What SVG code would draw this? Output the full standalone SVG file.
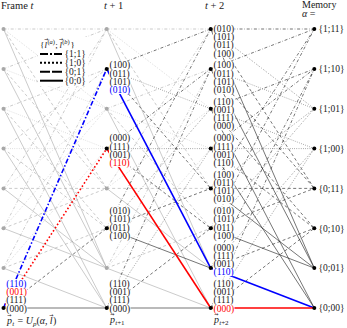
<svg xmlns="http://www.w3.org/2000/svg" width="347" height="328" viewBox="0 0 347 328">
<style>
.e line{fill:none;stroke-width:0.6}
.g line{stroke:#a8a8a8}
.k line{stroke:#1a1a1a}
.dd{stroke-dasharray:3 1.8 0.6 1.8}
.dt{stroke-dasharray:0.6 1.6}
.ds{stroke-dasharray:3 2.5}
.hb{stroke:#0000ff;stroke-width:1.6;fill:none}
.hr{stroke:#ff0000;stroke-width:1.6;fill:none}
.t{font-family:"Liberation Serif","DejaVu Serif",serif;fill:#1a1a1a}
.lb{font-size:9.5px}
.hd{font-size:10.5px}
.m{fill:#fff;stroke:none}
.nk{fill:#000}
.ng{fill:#a8a8a8}
.B{fill:#0000ff}
.R{fill:#ff0000}
.lg{stroke:#000;stroke-width:2;fill:none}
.ar{font-family:"DejaVu Sans",sans-serif;font-size:5px;fill:#1a1a1a}
.i{font-style:italic}
</style>
<rect width="347" height="328" fill="#fff"/>
<g id="connectors">
<g class="e g">
<line class="dd" x1="3.5" y1="29" x2="106.7" y2="29"/>
<line class="dd" x1="3.5" y1="68.9" x2="106.7" y2="29"/>
<line class="dd" x1="3.5" y1="108.7" x2="106.7" y2="68.9"/>
<line class="dd" x1="3.5" y1="148.6" x2="106.7" y2="68.9"/>
<line class="dd" x1="3.5" y1="188.4" x2="106.7" y2="29"/>
<line class="dd" x1="3.5" y1="228.3" x2="106.7" y2="29"/>
<line class="dd" x1="3.5" y1="268.1" x2="106.7" y2="68.9"/>
<line class="dt" x1="3.5" y1="29" x2="106.7" y2="108.7"/>
<line class="dt" x1="3.5" y1="68.9" x2="106.7" y2="108.7"/>
<line class="dt" x1="3.5" y1="108.7" x2="106.7" y2="148.6"/>
<line class="dt" x1="3.5" y1="148.6" x2="106.7" y2="148.6"/>
<line class="dt" x1="3.5" y1="188.4" x2="106.7" y2="108.7"/>
<line class="dt" x1="3.5" y1="228.3" x2="106.7" y2="108.7"/>
<line class="dt" x1="3.5" y1="268.1" x2="106.7" y2="148.6"/>
<line class="ds" x1="3.5" y1="29" x2="106.7" y2="188.4"/>
<line class="ds" x1="3.5" y1="68.9" x2="106.7" y2="188.4"/>
<line class="ds" x1="3.5" y1="108.7" x2="106.7" y2="228.3"/>
<line class="ds" x1="3.5" y1="148.6" x2="106.7" y2="228.3"/>
<line class="ds" x1="3.5" y1="188.4" x2="106.7" y2="188.4"/>
<line class="ds" x1="3.5" y1="228.3" x2="106.7" y2="188.4"/>
<line class="ds" x1="3.5" y1="268.1" x2="106.7" y2="228.3"/>
<line x1="3.5" y1="29" x2="106.7" y2="268.1"/>
<line x1="3.5" y1="68.9" x2="106.7" y2="268.1"/>
<line x1="3.5" y1="108.7" x2="106.7" y2="308"/>
<line x1="3.5" y1="148.6" x2="106.7" y2="308"/>
<line x1="3.5" y1="188.4" x2="106.7" y2="268.1"/>
<line x1="3.5" y1="228.3" x2="106.7" y2="268.1"/>
<line x1="3.5" y1="268.1" x2="106.7" y2="308"/>
<line class="dd" x1="106.7" y1="29" x2="210.7" y2="29"/>
<line class="dt" x1="106.7" y1="29" x2="210.7" y2="108.7"/>
<line class="ds" x1="106.7" y1="29" x2="210.7" y2="188.4"/>
<line x1="106.7" y1="29" x2="210.7" y2="268.1"/>
<line class="dd" x1="106.7" y1="108.7" x2="210.7" y2="68.9"/>
<line class="dt" x1="106.7" y1="108.7" x2="210.7" y2="148.6"/>
<line class="ds" x1="106.7" y1="108.7" x2="210.7" y2="228.3"/>
<line x1="106.7" y1="108.7" x2="210.7" y2="308"/>
<line class="dd" x1="106.7" y1="188.4" x2="210.7" y2="29"/>
<line class="dt" x1="106.7" y1="188.4" x2="210.7" y2="108.7"/>
<line class="ds" x1="106.7" y1="188.4" x2="210.7" y2="188.4"/>
<line x1="106.7" y1="188.4" x2="210.7" y2="268.1"/>
<line class="dd" x1="106.7" y1="268.1" x2="210.7" y2="68.9"/>
<line class="dt" x1="106.7" y1="268.1" x2="210.7" y2="148.6"/>
<line class="ds" x1="106.7" y1="268.1" x2="210.7" y2="228.3"/>
<line x1="106.7" y1="268.1" x2="210.7" y2="308"/>
</g>
<g class="e k">
<line class="ds" x1="3.5" y1="308" x2="106.7" y2="228.3"/>
<line x1="3.5" y1="308" x2="106.7" y2="308"/>
<line class="dd" x1="106.7" y1="68.9" x2="210.7" y2="29"/>
<line class="dt" x1="106.7" y1="68.9" x2="210.7" y2="108.7"/>
<line class="ds" x1="106.7" y1="68.9" x2="210.7" y2="188.4"/>
<line class="dd" x1="106.7" y1="148.6" x2="210.7" y2="68.9"/>
<line class="dt" x1="106.7" y1="148.6" x2="210.7" y2="148.6"/>
<line class="ds" x1="106.7" y1="148.6" x2="210.7" y2="228.3"/>
<line class="dd" x1="106.7" y1="228.3" x2="210.7" y2="29"/>
<line class="dt" x1="106.7" y1="228.3" x2="210.7" y2="108.7"/>
<line class="ds" x1="106.7" y1="228.3" x2="210.7" y2="188.4"/>
<line x1="106.7" y1="228.3" x2="210.7" y2="268.1"/>
<line class="dd" x1="106.7" y1="308" x2="210.7" y2="68.9"/>
<line class="dt" x1="106.7" y1="308" x2="210.7" y2="148.6"/>
<line class="ds" x1="106.7" y1="308" x2="210.7" y2="228.3"/>
<line x1="106.7" y1="308" x2="210.7" y2="308"/>
<line class="dd" x1="210.7" y1="29" x2="314.3" y2="29"/>
<line class="dt" x1="210.7" y1="29" x2="314.3" y2="108.7"/>
<line class="ds" x1="210.7" y1="29" x2="314.3" y2="188.4"/>
<line x1="210.7" y1="29" x2="314.3" y2="268.1"/>
<line class="dd" x1="210.7" y1="68.9" x2="314.3" y2="29"/>
<line class="dt" x1="210.7" y1="68.9" x2="314.3" y2="108.7"/>
<line class="ds" x1="210.7" y1="68.9" x2="314.3" y2="188.4"/>
<line x1="210.7" y1="68.9" x2="314.3" y2="268.1"/>
<line class="dd" x1="210.7" y1="108.7" x2="314.3" y2="68.9"/>
<line class="dt" x1="210.7" y1="108.7" x2="314.3" y2="148.6"/>
<line class="ds" x1="210.7" y1="108.7" x2="314.3" y2="228.3"/>
<line x1="210.7" y1="108.7" x2="314.3" y2="308"/>
<line class="dd" x1="210.7" y1="148.6" x2="314.3" y2="68.9"/>
<line class="dt" x1="210.7" y1="148.6" x2="314.3" y2="148.6"/>
<line class="ds" x1="210.7" y1="148.6" x2="314.3" y2="228.3"/>
<line x1="210.7" y1="148.6" x2="314.3" y2="308"/>
<line class="dd" x1="210.7" y1="188.4" x2="314.3" y2="29"/>
<line class="dt" x1="210.7" y1="188.4" x2="314.3" y2="108.7"/>
<line class="ds" x1="210.7" y1="188.4" x2="314.3" y2="188.4"/>
<line x1="210.7" y1="188.4" x2="314.3" y2="268.1"/>
<line class="dd" x1="210.7" y1="228.3" x2="314.3" y2="29"/>
<line class="dt" x1="210.7" y1="228.3" x2="314.3" y2="108.7"/>
<line class="ds" x1="210.7" y1="228.3" x2="314.3" y2="188.4"/>
<line x1="210.7" y1="228.3" x2="314.3" y2="268.1"/>
<line class="dd" x1="210.7" y1="268.1" x2="314.3" y2="68.9"/>
<line class="dt" x1="210.7" y1="268.1" x2="314.3" y2="148.6"/>
<line class="ds" x1="210.7" y1="268.1" x2="314.3" y2="228.3"/>
<line class="dd" x1="210.7" y1="308" x2="314.3" y2="68.9"/>
<line class="dt" x1="210.7" y1="308" x2="314.3" y2="148.6"/>
<line class="ds" x1="210.7" y1="308" x2="314.3" y2="228.3"/>
</g>
<g id="path-blue">
<line class="hb" x1="3.5" y1="308" x2="106.7" y2="68.9" stroke-dasharray="5 2 1.5 2"/>
<line class="hb" x1="106.7" y1="68.9" x2="210.7" y2="268.1"/>
<line class="hb" x1="210.7" y1="268.1" x2="314.3" y2="308"/>
</g>
<g id="path-red">
<line class="hr" x1="3.5" y1="308" x2="106.7" y2="148.6" stroke-dasharray="1.6 2.2"/>
<line class="hr" x1="106.7" y1="148.6" x2="210.7" y2="308"/>
<line class="hr" x1="210.7" y1="308" x2="314.3" y2="308"/>
</g>
</g>
<g id="headings" class="t hd">
<text x="1" y="8.5">Frame <tspan class="i">t</tspan></text>
<text x="104" y="8.5"><tspan class="i">t</tspan> + 1</text>
<text x="205" y="8.5"><tspan class="i">t</tspan> + 2</text>
<text x="302" y="7.5" font-size="10">Memory</text>
<text x="302" y="17" font-size="10"><tspan class="i">α</tspan> =</text>
</g>
<g id="legend">
<rect class="m" x="38" y="37" width="50" height="49"/>
<text class="t" x="40" y="47.5" font-size="9">{<tspan class="i" x="44.6">l</tspan><tspan font-size="6.5" x="47.4" y="44">(<tspan class="i">a</tspan>)</tspan><tspan x="55.2" y="47.5">;</tspan><tspan class="i" x="59.4">l</tspan><tspan font-size="6.5" x="62.2" y="44">(<tspan class="i">b</tspan>)</tspan><tspan x="70.4" y="47.5">}</tspan></text>
<text class="ar" x="44.3" y="40.6">→</text>
<text class="ar" x="59.1" y="40.6">→</text>
<line class="lg" x1="40" y1="54" x2="63" y2="54" stroke-dasharray="8 2 2 2"/>
<line class="lg" x1="40" y1="62.7" x2="63" y2="62.7" stroke-dasharray="2 2"/>
<line class="lg" x1="40" y1="71.7" x2="63" y2="71.7" stroke-dasharray="10 2"/>
<line class="lg" x1="40" y1="80.7" x2="63" y2="80.7"/>
<g class="t lb">
<text x="64.5" y="57.3">{1;1}</text>
<text x="64.5" y="66">{1;0}</text>
<text x="64.5" y="75">{0;1}</text>
<text x="64.5" y="84">{0;0}</text>
</g>
</g>
<g id="frame-t">
<g id="f0"><circle class="ng" cx="3.5" cy="29" r="2"/></g>
<g id="f1"><circle class="ng" cx="3.5" cy="68.9" r="2"/></g>
<g id="f2"><circle class="ng" cx="3.5" cy="108.7" r="2"/></g>
<g id="f3"><circle class="ng" cx="3.5" cy="148.6" r="2"/></g>
<g id="f4"><circle class="ng" cx="3.5" cy="188.4" r="2"/></g>
<g id="f5"><circle class="ng" cx="3.5" cy="228.3" r="2"/></g>
<g id="f6"><circle class="ng" cx="3.5" cy="268.1" r="2"/></g>
<g id="f7"><rect class="m" x="5.8" y="279.4" width="21.5" height="33.2"/><circle class="nk" cx="3.5" cy="308" r="2"/>
<text class="t lb" x="6.3" y="287"><tspan class="B">(110)</tspan><tspan class="R" x="6.3" y="295.2">(001)</tspan><tspan x="6.3" y="303.4">(111)</tspan><tspan x="6.3" y="311.6">(000)</tspan></text></g>
</g>
<g id="col-t1">
<g id="a0"><circle class="ng" cx="106.7" cy="29" r="2"/></g>
<g id="a1"><rect class="m" x="109" y="60.8" width="21.5" height="33.2"/><circle class="nk" cx="106.7" cy="68.9" r="2"/>
<text class="t lb" x="109.5" y="68.4">(100)<tspan x="109.5" y="76.6">(011)</tspan><tspan x="109.5" y="84.8">(101)</tspan><tspan class="B" x="109.5" y="93">(010)</tspan></text></g>
<g id="a2"><circle class="ng" cx="106.7" cy="108.7" r="2"/></g>
<g id="a3"><rect class="m" x="109" y="133.7" width="21.5" height="33.2"/><circle class="nk" cx="106.7" cy="148.6" r="2"/>
<text class="t lb" x="109.5" y="141.3">(000)<tspan x="109.5" y="149.5">(111)</tspan><tspan x="109.5" y="157.7">(001)</tspan><tspan class="R" x="109.5" y="165.9">(110)</tspan></text></g>
<g id="a4"><circle class="ng" cx="106.7" cy="188.4" r="2"/></g>
<g id="a5"><rect class="m" x="109" y="206.6" width="21.5" height="33.2"/><circle class="nk" cx="106.7" cy="228.3" r="2"/>
<text class="t lb" x="109.5" y="214.2">(010)<tspan x="109.5" y="222.4">(101)</tspan><tspan x="109.5" y="230.6">(011)</tspan><tspan x="109.5" y="238.8">(100)</tspan></text></g>
<g id="a6"><circle class="ng" cx="106.7" cy="268.1" r="2"/></g>
<g id="a7"><rect class="m" x="109" y="279.4" width="21.5" height="33.2"/><circle class="nk" cx="106.7" cy="308" r="2"/>
<text class="t lb" x="109.5" y="287">(110)<tspan x="109.5" y="295.2">(001)</tspan><tspan x="109.5" y="303.4">(111)</tspan><tspan x="109.5" y="311.6">(000)</tspan></text></g>
</g>
<g id="col-t2">
<g id="b0"><rect class="m" x="213" y="24.4" width="21.5" height="33.2"/><circle class="nk" cx="210.7" cy="29" r="2"/>
<text class="t lb" x="213.5" y="32">(010)<tspan x="213.5" y="40.2">(101)</tspan><tspan x="213.5" y="48.4">(011)</tspan><tspan x="213.5" y="56.6">(100)</tspan></text></g>
<g id="b1"><rect class="m" x="213" y="60.8" width="21.5" height="33.2"/><circle class="nk" cx="210.7" cy="68.9" r="2"/>
<text class="t lb" x="213.5" y="68.4">(100)<tspan x="213.5" y="76.6">(011)</tspan><tspan x="213.5" y="84.8">(101)</tspan><tspan x="213.5" y="93">(010)</tspan></text></g>
<g id="b2"><rect class="m" x="213" y="97.2" width="21.5" height="33.2"/><circle class="nk" cx="210.7" cy="108.7" r="2"/>
<text class="t lb" x="213.5" y="104.8">(110)<tspan x="213.5" y="113">(001)</tspan><tspan x="213.5" y="121.2">(111)</tspan><tspan x="213.5" y="129.4">(000)</tspan></text></g>
<g id="b3"><rect class="m" x="213" y="133.7" width="21.5" height="33.2"/><circle class="nk" cx="210.7" cy="148.6" r="2"/>
<text class="t lb" x="213.5" y="141.3">(000)<tspan x="213.5" y="149.5">(111)</tspan><tspan x="213.5" y="157.7">(001)</tspan><tspan x="213.5" y="165.9">(110)</tspan></text></g>
<g id="b4"><rect class="m" x="213" y="170.1" width="21.5" height="33.2"/><circle class="nk" cx="210.7" cy="188.4" r="2"/>
<text class="t lb" x="213.5" y="177.7">(100)<tspan x="213.5" y="185.9">(011)</tspan><tspan x="213.5" y="194.1">(101)</tspan><tspan x="213.5" y="202.3">(010)</tspan></text></g>
<g id="b5"><rect class="m" x="213" y="206.6" width="21.5" height="33.2"/><circle class="nk" cx="210.7" cy="228.3" r="2"/>
<text class="t lb" x="213.5" y="214.2">(010)<tspan x="213.5" y="222.4">(101)</tspan><tspan x="213.5" y="230.6">(011)</tspan><tspan x="213.5" y="238.8">(100)</tspan></text></g>
<g id="b6"><rect class="m" x="213" y="242.9" width="21.5" height="33.2"/><circle class="nk" cx="210.7" cy="268.1" r="2"/>
<text class="t lb" x="213.5" y="250.5">(000)<tspan x="213.5" y="258.7">(111)</tspan><tspan x="213.5" y="266.9">(001)</tspan><tspan class="B" x="213.5" y="275.1">(110)</tspan></text></g>
<g id="b7"><rect class="m" x="213" y="279.4" width="21.5" height="33.2"/><circle class="nk" cx="210.7" cy="308" r="2"/>
<text class="t lb" x="213.5" y="287">(110)<tspan x="213.5" y="295.2">(001)</tspan><tspan x="213.5" y="303.4">(111)</tspan><tspan class="R" x="213.5" y="311.6">(000)</tspan></text></g>
</g>
<g id="memory" class="t lb">
<g id="m0"><circle class="nk" cx="314.3" cy="29" r="2"/><text x="318.5" y="32.3">{1;11}</text></g>
<g id="m1"><circle class="nk" cx="314.3" cy="68.9" r="2"/><text x="318.5" y="72.2">{1;10}</text></g>
<g id="m2"><circle class="nk" cx="314.3" cy="108.7" r="2"/><text x="318.5" y="112">{1;01}</text></g>
<g id="m3"><circle class="nk" cx="314.3" cy="148.6" r="2"/><text x="318.5" y="151.9">{1;00}</text></g>
<g id="m4"><circle class="nk" cx="314.3" cy="188.4" r="2"/><text x="318.5" y="191.7">{0;11}</text></g>
<g id="m5"><circle class="nk" cx="314.3" cy="228.3" r="2"/><text x="318.5" y="231.6">{0;10}</text></g>
<g id="m6"><circle class="nk" cx="314.3" cy="268.1" r="2"/><text x="318.5" y="271.4">{0;01}</text></g>
<g id="m7"><circle class="nk" cx="314.3" cy="308" r="2"/><text x="318.5" y="311.3">{0;00}</text></g>
</g>
<g id="bottom-labels">
<text class="t" font-size="10" x="7" y="324"><tspan class="i">p</tspan><tspan class="i" font-size="7" x="12.2" y="326">t</tspan><tspan x="15" y="324"> = </tspan><tspan class="i">U</tspan><tspan class="i" font-size="7" y="326">p</tspan><tspan y="324">(</tspan><tspan class="i">α</tspan><tspan>, </tspan><tspan class="i" x="49.8">l</tspan><tspan x="53">)</tspan></text>
<text class="ar" x="7.2" y="317">→</text>
<text class="ar" x="49.3" y="316.5">→</text>
<text class="t" font-size="10" x="110" y="323"><tspan class="i">p</tspan><tspan font-size="7" x="115.2" y="325"><tspan class="i">t</tspan>+1</tspan></text>
<text class="ar" x="110.2" y="316.3">→</text>
<text class="t" font-size="10" x="214" y="323"><tspan class="i">p</tspan><tspan font-size="7" x="219.2" y="325"><tspan class="i">t</tspan>+2</tspan></text>
<text class="ar" x="214.2" y="316.3">→</text>
</g>
</svg>
